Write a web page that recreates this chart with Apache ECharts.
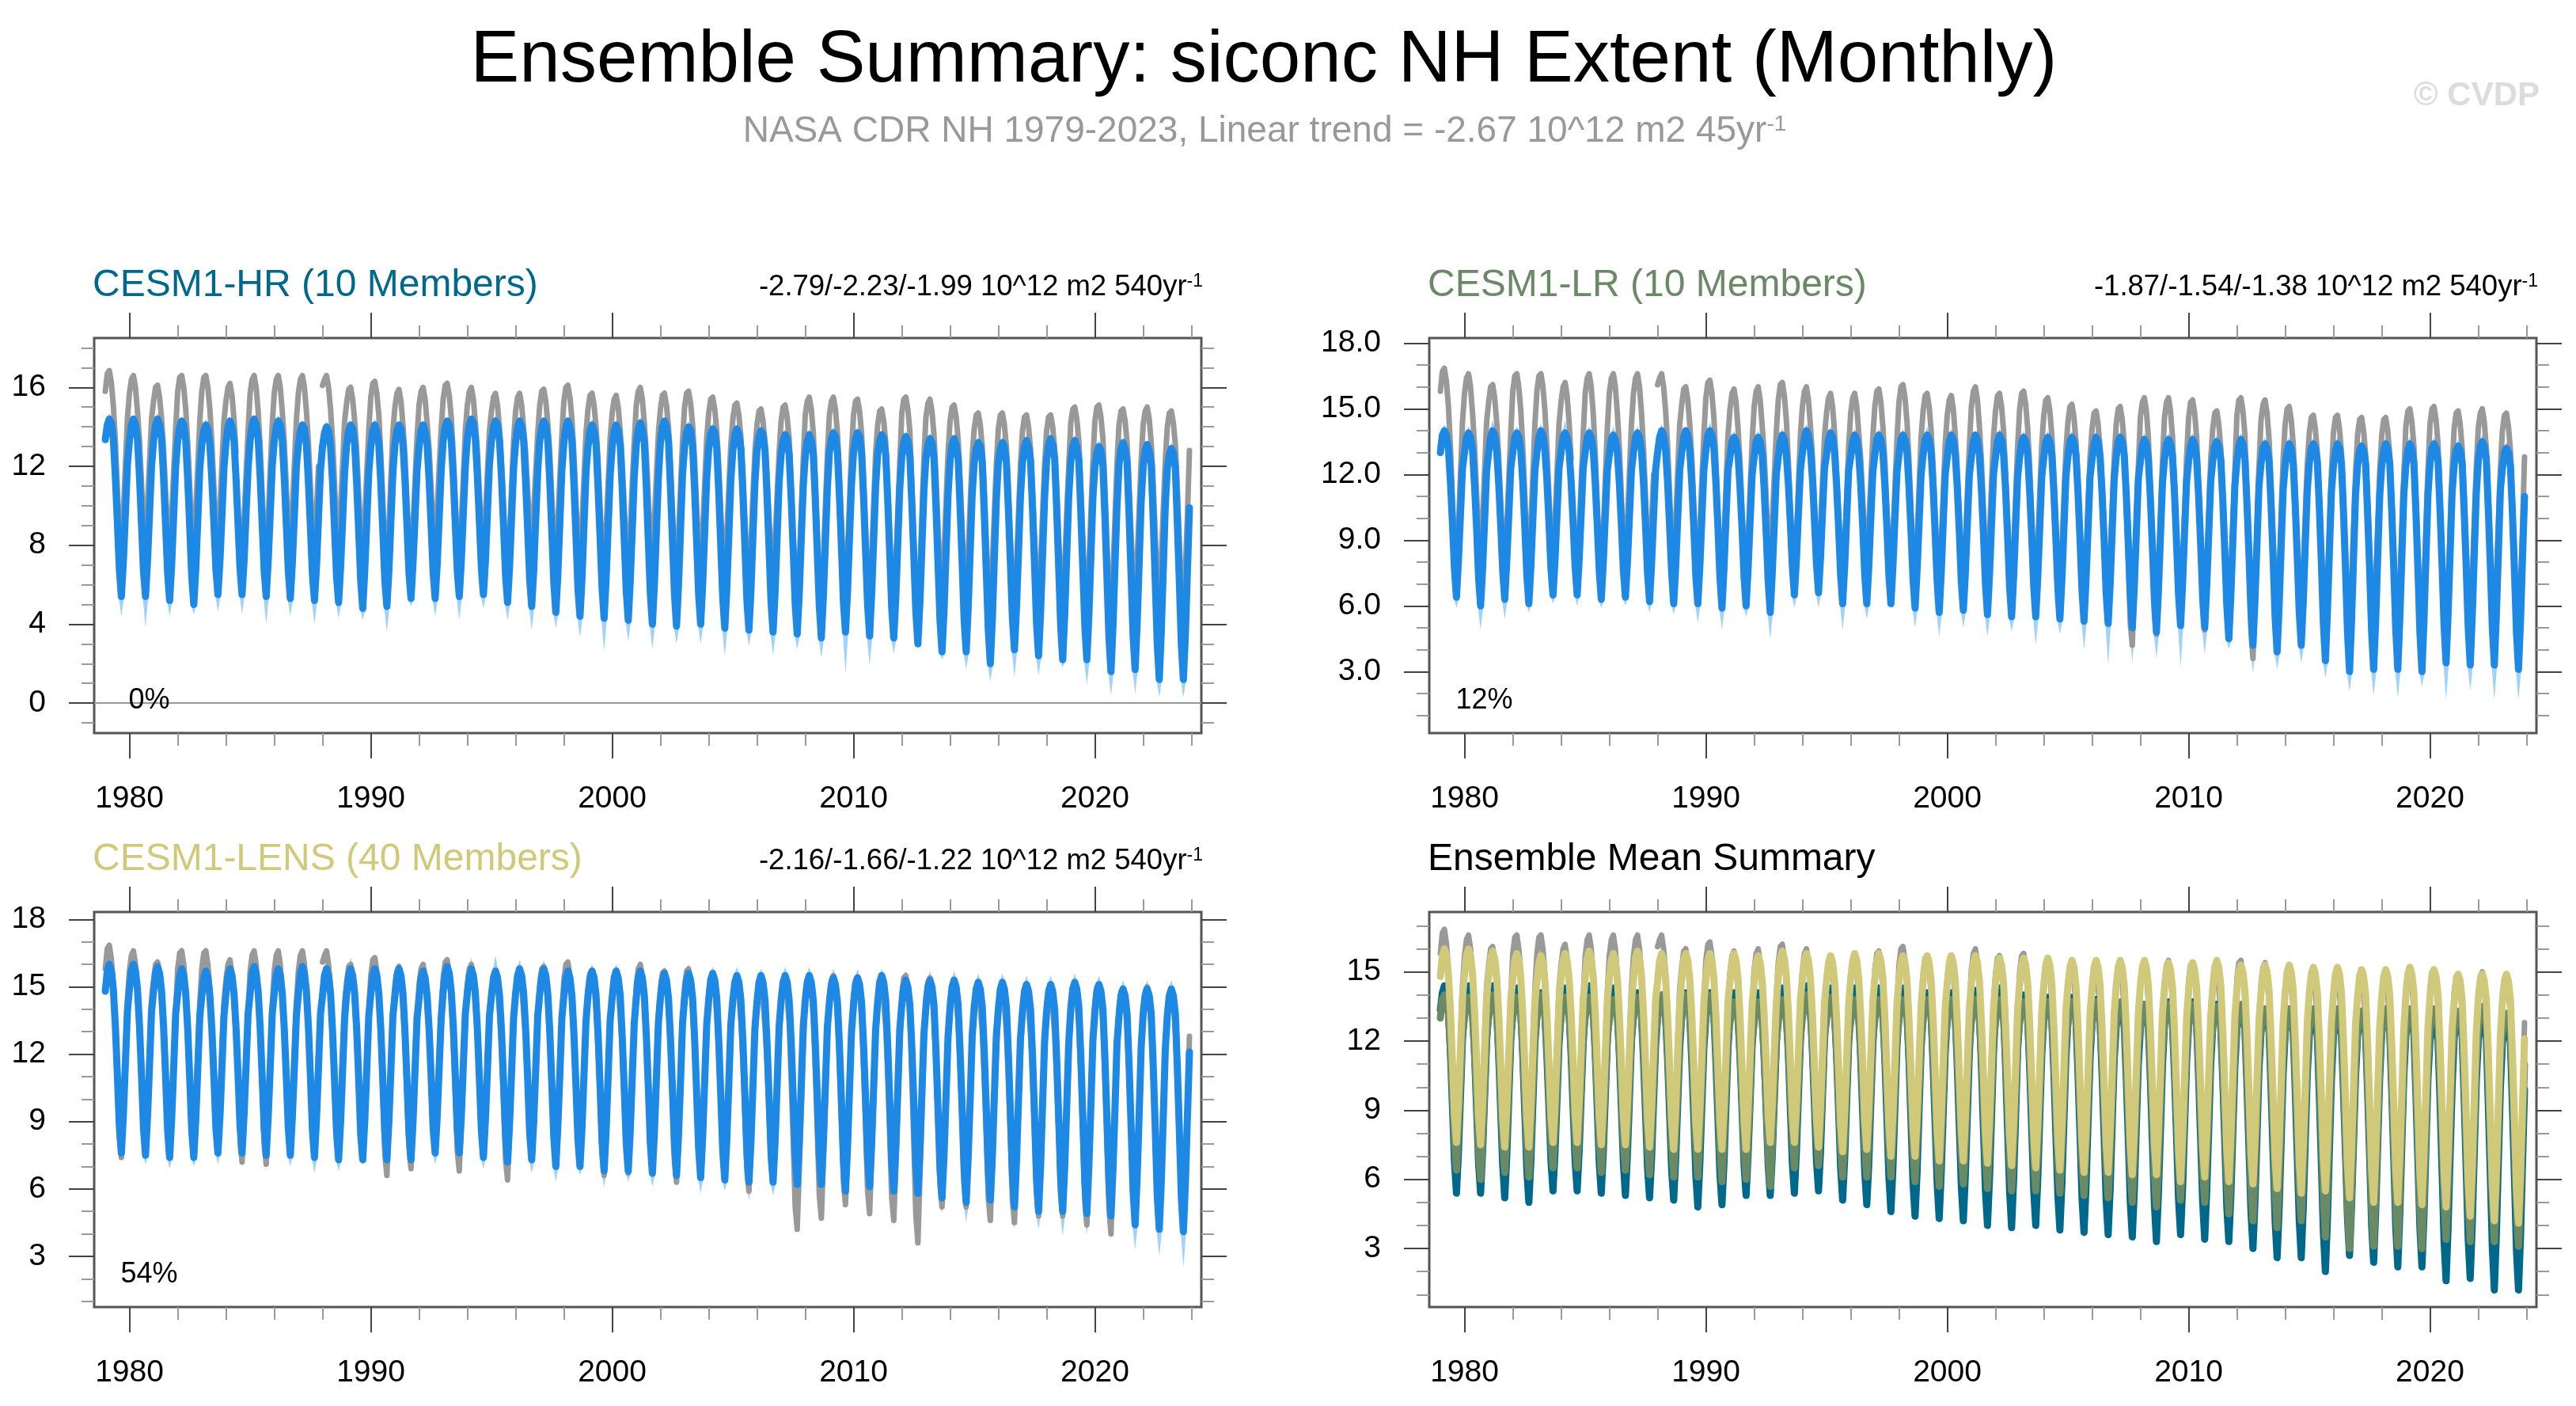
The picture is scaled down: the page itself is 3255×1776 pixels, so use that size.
<!DOCTYPE html>
<html><head><meta charset="utf-8">
<script src="https://cdn.jsdelivr.net/npm/echarts@6.0.0/dist/echarts.min.js"></script>
<style>html,body{margin:0;padding:0;background:#fff}#c{width:3255px;height:1776px}</style>
</head><body><div id="c"></div>
<script>
// ---------------- DATA (10^12 m2), monthly Jan 1979 .. Dec 2023 ----------------
const startYear = 1979;
const obsExtent = [
15.8,16.7,16.85,16.25,15.1,13.3,10.9,8.3,7.4,9.7,12.0,14.4,
15.7,16.4,16.6,16.0,14.8,13.3,11.2,8.9,8.0,10.1,12.2,14.4,
15.3,16.0,16.1,15.5,14.4,12.8,10.7,8.4,7.5,9.6,11.7,13.9,
15.8,16.5,16.6,16.0,14.9,13.2,11.0,8.5,7.7,9.8,12.0,14.3,
15.8,16.5,16.6,16.0,14.9,13.2,11.0,8.6,7.8,9.9,12.1,14.3,
15.3,16.0,16.2,15.6,14.4,12.7,null,8.1,7.2,9.3,11.6,13.8,
15.7,16.4,16.6,16.0,14.8,13.0,10.6,8.0,7.1,9.4,11.8,14.1,
15.7,16.4,16.6,16.0,14.8,13.2,11.0,8.6,7.8,9.9,12.1,14.3,
15.7,16.4,16.6,16.0,14.8,13.2,11.0,8.5,7.7,9.8,12.0,null,
16.1,16.4,16.6,16.0,14.9,13.3,11.1,8.7,7.8,9.9,12.1,14.3,
15.2,15.9,16.0,15.4,14.3,12.8,10.6,8.3,7.5,9.5,11.7,13.8,
15.5,16.2,16.3,15.7,14.6,12.6,10.2,7.5,6.6,8.9,11.4,13.8,
15.0,15.7,15.9,15.3,14.1,12.5,10.2,7.8,6.9,9.1,11.3,13.5,
15.1,15.8,16.0,15.4,14.2,12.9,10.9,8.7,7.9,9.8,11.9,13.9,
15.4,16.1,16.2,15.6,14.5,12.6,10.3,7.7,6.8,9.1,11.4,13.8,
15.1,15.8,16.0,15.4,14.2,12.8,10.7,8.4,7.6,9.6,11.7,13.8,
14.8,15.5,15.7,15.1,13.9,12.1,9.8,7.3,6.4,8.6,10.9,13.3,
14.8,15.5,15.7,15.1,13.9,12.7,10.8,8.8,8.0,9.8,11.7,13.7,
15.1,15.8,15.9,15.3,14.2,12.6,10.4,8.0,7.1,9.2,11.4,13.6,
15.3,16.0,16.1,15.5,14.4,12.6,10.3,7.9,7.0,9.1,11.4,13.7,
14.9,15.6,15.7,15.1,14.0,12.3,10.0,7.5,6.6,8.8,11.1,13.4,
14.7,15.4,15.6,15.0,13.8,12.2,10.0,7.6,6.7,8.8,11.1,13.3,
15.1,15.8,16.0,15.4,14.2,12.6,10.4,8.0,7.2,9.3,11.5,13.7,
14.9,15.6,15.7,15.1,14.0,12.1,9.8,7.2,6.3,8.6,10.9,13.3,
15.0,15.7,15.8,15.2,14.1,12.3,10.0,7.5,6.6,8.8,11.1,13.4,
14.7,15.4,15.5,14.9,13.8,12.0,9.8,7.3,6.4,8.6,10.9,13.1,
14.4,15.1,15.2,14.6,13.5,11.7,9.3,6.8,5.9,8.1,10.5,12.8,
14.1,14.8,14.9,14.3,13.2,11.6,9.4,7.1,6.3,8.3,10.5,12.7,
14.3,15.0,15.1,14.5,13.4,10.9,8.2,5.2,4.2,6.8,9.5,12.3,
14.6,15.3,15.5,14.9,13.7,11.3,8.6,5.7,4.7,7.2,9.9,12.6,
14.6,15.3,15.5,14.9,13.7,11.6,9.0,6.3,5.3,7.7,10.2,12.8,
14.6,15.3,15.4,14.8,13.7,11.4,8.8,5.9,4.9,7.4,10.0,12.7,
14.1,14.8,14.9,14.3,13.2,11.0,8.4,5.6,4.6,7.0,9.6,12.2,
14.7,15.4,15.5,14.9,13.8,11.0,8.0,4.8,3.6,6.5,9.4,12.4,
14.5,15.2,15.4,14.8,13.6,11.5,9.0,6.2,5.2,7.6,10.2,12.7,
14.3,15.0,15.1,14.5,13.4,11.3,8.9,6.2,5.2,7.6,10.1,12.5,
13.9,14.6,14.7,14.1,13.0,10.9,8.3,5.6,4.6,7.0,9.6,12.1,
13.9,14.6,14.7,14.1,13.0,10.8,8.3,5.5,4.5,7.0,9.5,12.1,
13.8,14.5,14.6,14.0,12.9,10.9,8.4,5.8,4.8,7.2,9.6,12.1,
13.8,14.5,14.6,14.0,12.9,10.9,8.4,5.7,4.8,7.1,9.6,12.0,
14.2,14.9,15.0,14.4,13.3,11.0,8.3,5.4,4.4,6.9,9.6,12.2,
14.3,15.0,15.1,14.5,13.4,10.9,8.1,5.1,4.0,6.7,9.4,12.2,
14.1,14.8,14.9,14.3,13.2,11.1,8.6,5.9,4.9,7.3,9.8,12.3,
14.1,14.8,15.0,14.4,13.2,11.1,8.6,5.9,4.9,7.3,9.8,12.3,
14.0,14.7,14.8,14.2,13.1,10.8,8.2,5.4,4.4,6.9,9.5,12.8
];
const hrMean = [
13.35,14.1,14.4,14.2,13.4,11.5,9.2,6.8,5.4,7.2,9.6,12.1,
13.3,14.1,14.4,14.1,13.4,11.5,9.1,6.7,5.4,7.2,9.6,12.0,
13.3,14.1,14.4,14.1,13.4,11.4,9.0,6.6,5.2,7.0,9.5,12.0,
13.3,14.0,14.3,14.1,13.3,11.3,8.9,6.4,5.0,6.8,9.3,11.9,
13.1,13.8,14.1,13.9,13.1,11.3,9.1,6.8,5.5,7.2,9.5,11.9,
13.2,14.0,14.3,14.0,13.3,11.4,9.1,6.8,5.5,7.2,9.6,11.9,
13.3,14.1,14.4,14.1,13.4,11.5,9.1,6.7,5.4,7.2,9.6,12.0,
13.3,14.0,14.3,14.1,13.3,11.4,9.1,6.7,5.3,7.1,9.5,12.0,
13.1,13.8,14.1,13.9,13.1,11.2,8.9,6.5,5.2,6.9,9.4,11.8,
13.0,13.7,14.0,13.8,13.0,11.2,8.8,6.4,5.1,6.9,9.3,11.7,
13.1,13.8,14.1,13.9,13.1,11.1,8.7,6.2,4.8,6.7,9.2,11.7,
13.0,13.8,14.1,13.8,13.1,11.1,8.7,6.2,4.9,6.7,9.2,11.7,
13.1,13.8,14.1,13.9,13.1,11.3,9.0,6.6,5.3,7.1,9.4,11.8,
13.0,13.8,14.1,13.8,13.1,11.3,9.0,6.6,5.3,7.0,9.4,11.8,
13.3,14.0,14.3,14.1,13.3,11.5,9.1,6.7,5.4,7.2,9.6,12.0,
13.4,14.1,14.4,14.2,13.4,11.5,9.2,6.8,5.5,7.2,9.7,12.1,
13.3,14.0,14.3,14.1,13.3,11.4,9.0,6.5,5.1,6.9,9.4,11.9,
13.2,14.0,14.3,14.0,13.3,11.2,8.8,6.3,4.9,6.7,9.3,11.8,
13.3,14.0,14.3,14.1,13.3,11.2,8.7,6.1,4.6,6.5,9.2,11.8,
13.2,14.0,14.3,14.0,13.3,11.1,8.5,5.8,4.4,6.3,9.0,11.7,
13.0,13.8,14.1,13.8,13.1,10.9,8.4,5.8,4.3,6.3,8.9,11.5,
13.0,13.8,14.1,13.8,13.1,10.9,8.3,5.7,4.2,6.2,8.8,11.5,
13.1,13.9,14.2,13.9,13.2,10.9,8.2,5.5,4.0,6.0,8.7,11.5,
13.2,14.0,14.3,14.0,13.3,10.9,8.2,5.5,3.9,6.0,8.8,11.6,
13.0,13.7,14.0,13.8,13.0,10.8,8.2,5.5,4.0,6.0,8.7,11.4,
12.9,13.6,13.9,13.7,12.9,10.7,8.0,5.3,3.8,5.8,8.5,11.3,
12.8,13.6,13.9,13.6,12.9,10.6,8.0,5.2,3.7,5.7,8.5,11.2,
12.8,13.5,13.8,13.6,12.8,10.5,7.9,5.1,3.6,5.6,8.4,11.2,
12.6,13.3,13.6,13.4,12.6,10.4,7.8,5.0,3.5,5.5,8.3,11.0,
12.5,13.3,13.6,13.3,12.6,10.3,7.6,4.9,3.3,5.4,8.1,10.9,
12.7,13.4,13.7,13.5,12.7,10.5,7.9,5.1,3.6,5.6,8.4,11.1,
12.7,13.4,13.7,13.5,12.7,10.4,7.7,5.0,3.4,5.5,8.2,11.0,
12.6,13.3,13.6,13.4,12.6,10.3,7.6,4.8,3.3,5.3,8.1,10.9,
12.5,13.2,13.5,13.3,12.5,10.1,7.4,4.6,3.0,5.1,7.9,10.8,
12.4,13.1,13.4,13.2,12.4,9.9,7.1,4.2,2.6,4.7,7.6,10.6,
12.3,13.1,13.4,13.1,12.4,9.9,7.1,4.2,2.6,4.8,7.7,10.6,
12.2,12.9,13.2,13.0,12.2,9.6,6.7,3.7,2.0,4.2,7.3,10.3,
12.2,12.9,13.2,13.0,12.2,9.8,7.1,4.3,2.7,4.8,7.6,10.5,
12.2,13.0,13.3,13.0,12.3,9.8,7.0,4.0,2.4,4.6,7.5,10.4,
12.3,13.1,13.4,13.1,12.4,9.8,6.9,3.9,2.2,4.5,7.5,10.5,
12.2,13.0,13.3,13.0,12.3,9.7,6.8,3.9,2.2,4.4,7.4,10.4,
12.0,12.7,13.0,12.8,12.0,9.4,6.4,3.3,1.6,3.9,7.0,10.0,
12.1,12.9,13.2,12.9,12.2,9.5,6.5,3.4,1.7,4.0,7.1,10.2,
12.0,12.8,13.1,12.8,12.1,9.3,6.2,3.0,1.2,3.6,6.8,10.0,
11.9,12.6,12.9,12.7,11.9,9.1,6.1,2.9,1.2,3.5,6.7,9.9
];
const lrMean = [
13.0,13.8,14.0,13.8,13.2,11.7,9.8,7.7,6.4,8.1,10.2,12.3,
13.0,13.7,13.9,13.7,13.1,11.5,9.6,7.3,6.0,7.7,9.9,12.2,
13.0,13.7,14.0,13.8,13.1,11.6,9.7,7.6,6.3,8.0,10.1,12.3,
13.0,13.7,13.9,13.7,13.1,11.6,9.6,7.4,6.1,7.8,10.0,12.2,
13.0,13.7,14.0,13.8,13.1,11.7,9.8,7.7,6.5,8.1,10.2,12.3,
13.0,13.7,13.9,13.7,13.1,11.7,9.8,7.8,6.5,8.1,10.2,12.3,
13.0,13.7,13.9,13.7,13.1,11.6,9.7,7.6,6.3,8.0,10.1,12.2,
12.9,13.6,13.8,13.6,13.0,11.6,9.7,7.6,6.4,8.0,10.1,12.2,
13.0,13.7,13.9,13.7,13.1,11.6,9.7,7.5,6.2,7.9,10.1,12.2,
13.0,13.7,14.0,13.8,13.1,11.6,9.6,7.5,6.1,7.8,10.0,12.2,
13.0,13.7,14.0,13.8,13.1,11.6,9.6,7.4,6.1,7.8,10.0,12.2,
13.1,13.8,14.0,13.8,13.2,11.6,9.6,7.3,5.9,7.7,10.0,12.2,
12.8,13.5,13.7,13.5,12.9,11.4,9.5,7.3,6.0,7.7,9.9,12.0,
12.8,13.5,13.7,13.5,12.9,11.3,9.3,7.1,5.7,7.5,9.7,12.0,
12.8,13.5,13.8,13.6,12.9,11.6,9.8,7.8,6.5,8.1,10.2,12.2,
13.0,13.7,14.0,13.8,13.1,11.8,9.9,7.9,6.6,8.2,10.3,12.3,
12.9,13.6,13.9,13.7,13.0,11.5,9.6,7.4,6.1,7.8,10.0,12.2,
12.8,13.5,13.8,13.6,12.9,11.5,9.6,7.4,6.1,7.8,10.0,12.1,
12.9,13.6,13.8,13.6,13.0,11.5,9.6,7.4,6.1,7.8,10.0,12.1,
12.9,13.6,13.8,13.6,13.0,11.4,9.4,7.2,5.9,7.6,9.8,12.0,
12.9,13.6,13.8,13.6,13.0,11.4,9.3,7.1,5.7,7.5,9.8,12.0,
12.8,13.5,13.8,13.6,12.9,11.4,9.4,7.1,5.8,7.5,9.8,12.0,
12.8,13.5,13.8,13.6,12.9,11.3,9.3,7.0,5.6,7.4,9.7,12.0,
12.8,13.5,13.8,13.6,12.9,11.3,9.2,6.9,5.5,7.3,9.6,11.9,
12.8,13.5,13.7,13.5,12.9,11.2,9.2,6.9,5.5,7.3,9.6,11.9,
12.8,13.5,13.7,13.5,12.9,11.2,9.1,6.8,5.4,7.2,9.5,11.9,
12.8,13.5,13.7,13.5,12.9,11.2,9.1,6.7,5.3,7.2,9.5,11.9,
12.7,13.4,13.7,13.5,12.8,11.1,9.0,6.6,5.2,7.0,9.4,11.8,
12.8,13.5,13.7,13.5,12.9,11.1,8.9,6.5,5.0,6.9,9.3,11.8,
12.6,13.3,13.6,13.4,12.7,10.9,8.7,6.3,4.8,6.7,9.2,11.6,
12.7,13.4,13.6,13.4,12.8,11.1,8.9,6.5,5.1,7.0,9.4,11.7,
12.6,13.3,13.6,13.4,12.7,11.0,8.8,6.4,5.0,6.9,9.3,11.7,
12.6,13.3,13.5,13.3,12.7,10.8,8.5,6.0,4.5,6.5,9.0,11.5,
12.6,13.3,13.6,13.4,12.7,10.7,8.4,5.8,4.2,6.3,8.9,11.5,
12.5,13.2,13.4,13.2,12.6,10.6,8.2,5.5,3.9,6.0,8.7,11.3,
12.4,13.1,13.4,13.2,12.5,10.6,8.3,5.7,4.2,6.2,8.8,11.3,
12.5,13.2,13.4,13.2,12.6,10.5,8.0,5.2,3.5,5.7,8.5,11.2,
12.4,13.1,13.4,13.2,12.5,10.3,7.7,4.8,3.0,5.3,8.2,11.1,
12.4,13.1,13.3,13.1,12.5,10.2,7.7,4.8,3.1,5.3,8.2,11.0,
12.4,13.1,13.4,13.2,12.5,10.3,7.7,4.9,3.1,5.4,8.2,11.1,
12.4,13.1,13.4,13.2,12.5,10.3,7.7,4.8,3.0,5.3,8.2,11.1,
12.5,13.2,13.4,13.2,12.6,10.4,7.9,5.1,3.4,5.6,8.4,11.2,
12.4,13.1,13.3,13.1,12.5,10.3,7.8,5.0,3.3,5.5,8.3,11.1,
12.6,13.3,13.5,13.3,12.7,10.4,7.9,5.0,3.3,5.6,8.4,11.3,
12.3,13.0,13.2,13.0,12.4,10.2,7.6,4.8,3.1,5.3,8.2,11.0
];
const lensMean = [
14.8,15.7,16.0,15.7,14.9,13.3,11.1,8.8,7.6,9.3,11.6,13.9,
14.9,15.7,16.0,15.7,14.9,13.3,11.1,8.7,7.5,9.2,11.5,13.9,
14.8,15.6,15.9,15.6,14.8,13.2,11.0,8.6,7.4,9.1,11.4,13.8,
14.7,15.5,15.8,15.5,14.7,13.1,10.9,8.6,7.4,9.1,11.4,13.7,
14.6,15.4,15.7,15.4,14.6,13.1,11.0,8.7,7.6,9.2,11.4,13.7,
14.7,15.5,15.8,15.5,14.7,13.2,11.1,8.8,7.6,9.3,11.5,13.8,
14.7,15.6,15.9,15.6,14.8,13.2,11.0,8.7,7.5,9.2,11.4,13.8,
14.7,15.5,15.8,15.5,14.7,13.1,11.0,8.7,7.5,9.2,11.4,13.7,
14.7,15.6,15.9,15.6,14.8,13.2,11.0,8.6,7.4,9.1,11.4,13.8,
14.6,15.5,15.8,15.5,14.7,13.0,10.8,8.5,7.3,9.0,11.3,13.6,
14.7,15.5,15.8,15.5,14.7,13.1,10.9,8.4,7.3,9.0,11.3,13.7,
14.7,15.5,15.8,15.5,14.7,13.1,10.8,8.5,7.3,9.0,11.3,13.7,
14.6,15.5,15.8,15.5,14.7,13.0,10.8,8.5,7.3,9.0,11.3,13.6,
14.5,15.4,15.7,15.4,14.6,13.1,11.0,8.7,7.6,9.2,11.4,13.6,
14.8,15.6,15.9,15.6,14.8,13.3,11.1,8.7,7.6,9.2,11.5,13.8,
14.7,15.5,15.8,15.5,14.7,13.1,10.9,8.6,7.4,9.1,11.3,13.7,
14.6,15.4,15.7,15.4,14.6,13.0,10.8,8.4,7.2,8.9,11.2,13.6,
14.7,15.5,15.8,15.5,14.7,13.1,10.9,8.5,7.3,9.0,11.3,13.7,
14.7,15.5,15.8,15.5,14.7,13.0,10.7,8.3,7.0,8.8,11.1,13.6,
14.6,15.4,15.7,15.4,14.6,12.9,10.6,8.2,7.0,8.7,11.1,13.5,
14.6,15.4,15.7,15.4,14.6,12.9,10.6,8.1,6.8,8.6,11.0,13.5,
14.5,15.4,15.7,15.4,14.6,12.8,10.5,8.1,6.8,8.6,11.0,13.4,
14.5,15.4,15.7,15.4,14.6,12.8,10.5,8.0,6.7,8.5,10.9,13.4,
14.5,15.3,15.6,15.3,14.5,12.7,10.4,7.9,6.6,8.4,10.8,13.4,
14.5,15.3,15.6,15.3,14.5,12.7,10.3,7.8,6.5,8.3,10.8,13.3,
14.4,15.3,15.6,15.3,14.5,12.6,10.2,7.7,6.4,8.2,10.7,13.3,
14.4,15.2,15.5,15.2,14.4,12.6,10.2,7.6,6.3,8.1,10.6,13.2,
14.3,15.2,15.5,15.2,14.4,12.5,10.1,7.6,6.3,8.1,10.6,13.2,
14.4,15.2,15.5,15.2,14.4,12.6,10.1,7.5,6.2,8.1,10.6,13.2,
14.4,15.2,15.5,15.2,14.4,12.5,10.1,7.5,6.2,8.1,10.6,13.2,
14.3,15.1,15.4,15.1,14.3,12.4,9.9,7.3,5.9,7.8,10.4,13.0,
14.2,15.1,15.4,15.1,14.3,12.4,10.0,7.4,6.1,8.0,10.5,13.1,
14.3,15.2,15.5,15.2,14.4,12.4,9.9,7.3,5.9,7.8,10.4,13.1,
14.2,15.0,15.3,15.0,14.2,12.3,9.8,7.1,5.8,7.7,10.3,12.9,
14.1,15.0,15.3,15.0,14.2,12.1,9.6,6.9,5.6,7.5,10.1,12.8,
14.1,15.0,15.3,15.0,14.2,12.1,9.6,6.8,5.4,7.4,10.0,12.8,
14.1,14.9,15.2,14.9,14.1,12.1,9.6,6.9,5.5,7.4,10.1,12.8,
14.0,14.9,15.2,14.9,14.1,12.0,9.4,6.6,5.2,7.2,9.9,12.7,
13.9,14.8,15.1,14.8,14.0,11.9,9.3,6.4,5.0,7.0,9.8,12.6,
13.9,14.8,15.1,14.8,14.0,11.8,9.2,6.4,5.0,7.0,9.7,12.5,
14.0,14.9,15.2,14.9,14.1,11.9,9.2,6.3,4.9,7.0,9.7,12.6,
13.9,14.8,15.1,14.8,14.0,11.8,9.1,6.3,4.8,6.9,9.6,12.5,
13.7,14.6,14.9,14.6,13.8,11.5,8.8,5.9,4.4,6.5,9.3,12.3,
13.8,14.6,14.9,14.6,13.8,11.5,8.7,5.7,4.2,6.3,9.2,12.2,
13.7,14.6,14.9,14.6,13.8,11.4,8.6,5.6,4.1,6.3,9.2,12.1
];
// ensemble extremes (one value per year): September minimum, March maximum
const hrSepMin = [4.4,3.8,4.4,4.5,4.6,4.5,4.0,4.4,4.0,4.3,4.2,3.6,4.9,4.4,4.2,4.8,4.2,3.7,3.8,3.3,2.6,3.1,2.7,3.0,3.0,2.4,2.9,2.4,2.7,2.3,1.5,1.9,2.5,2.8,2.2,1.7,1.1,1.3,1.4,1.8,0.9,0.4,0.5,0.3,0.3];
const hrMarMax = [14.7,14.6,14.7,14.5,14.4,14.5,14.6,14.6,14.3,14.3,14.3,14.4,14.3,14.3,14.5,14.6,14.6,14.5,14.5,14.5,14.4,14.3,14.5,14.5,14.3,14.2,14.1,14.1,13.9,13.9,14.0,14.0,13.8,13.8,13.7,13.6,13.5,13.5,13.6,13.6,13.6,13.3,13.4,13.3,13.2];
const lrSepMin = [5.9,4.9,5.4,5.7,6.1,6.0,5.9,6.0,5.7,5.6,5.2,4.9,5.5,4.5,5.9,5.9,4.9,5.4,5.9,5.0,4.6,5.0,4.6,4.8,4.2,4.7,4.0,3.3,3.4,3.6,3.2,3.8,4.0,2.9,3.1,3.4,2.7,2.1,1.9,1.8,2.3,1.7,2.1,1.7,1.7];
const lrMarMax = [14.3,14.2,14.5,14.2,14.3,14.5,14.2,14.2,14.2,14.3,14.2,14.4,14.0,14.0,14.1,14.3,14.2,14.1,14.1,14.1,14.2,14.1,14.0,14.1,14.0,14.0,14.0,14.0,14.0,13.9,13.9,13.9,13.8,13.9,13.7,13.7,13.7,13.7,13.6,13.7,13.7,13.7,13.6,13.8,13.5];
const lensSepMin = [7.3,7.1,6.9,7.0,7.1,7.0,7.2,7.0,6.7,6.8,7.1,7.0,7.2,7.1,6.9,6.9,6.9,6.7,6.3,6.6,6.1,6.3,6.1,6.2,5.8,5.9,5.5,5.7,5.3,5.5,5.3,5.2,5.1,4.8,4.9,4.5,4.7,4.2,4.2,3.9,4.0,3.8,3.3,3.0,2.5];
const lensMarMax = [16.3,16.3,16.2,16.1,16.1,16.2,16.2,16.3,16.3,16.4,16.3,16.1,16.1,16.0,16.2,16.3,16.4,16.2,16.2,16.1,16.0,16.0,16.1,15.9,16.0,15.9,15.9,15.8,15.9,15.9,15.8,15.8,15.8,15.7,15.7,15.7,15.6,15.6,15.5,15.5,15.6,15.5,15.3,15.3,15.3];

const xMajorYears = [1980,1990,2000,2010,2020];
const xMinorYears = [1982,1984,1986,1988,1992,1994,1996,1998,2002,2004,2006,2008,2012,2014,2016,2018,2022,2024];
const hrYTicks = [0,4,8,12,16], hrYMinor = [-1,1,2,3,5,6,7,9,10,11,13,14,15,17,18];
const lrYTicks = [3,6,9,12,15,18], lrYMinor = [1,2,4,5,7,8,10,11,13,14,16,17];
const lensYTicks = [3,6,9,12,15,18], lensYMinor = [1,2,4,5,7,8,10,11,13,14,16,17];
const sumYTicks = [3,6,9,12,15], sumYMinor = [1,2,4,5,7,8,10,11,13,14,16,17];

const titleText = 'Ensemble Summary: siconc NH Extent (Monthly)';
const subtitleText = 'NASA CDR NH 1979-2023, Linear trend = -2.67 10^12 m2 45yr';
const panelNames = ['CESM1-HR (10 Members)','CESM1-LR (10 Members)','CESM1-LENS (40 Members)','Ensemble Mean Summary'];
const trendTexts = ['-2.79/-2.23/-1.99 10^12 m2 540yr','-1.87/-1.54/-1.38 10^12 m2 540yr','-2.16/-1.66/-1.22 10^12 m2 540yr'];
const pctTexts = ['0%','12%','54%'];

// ---------------- STYLE / LAYOUT ----------------
const FONT = 'Liberation Sans';
const GRAY = '#999999', BLUE = '#1e88e5', NEEDLE = '#a3d2f7';
const TEAL = '#00698b', GREEN = '#6a8a65', KHAKI = '#d1c97a';
const XMIN = 1978.54, XMAX = 2024.41;
const GW = 1399, GH = 499;
const panels = [
  {left:119,  top:427,  ymin:-1.52, ymax:18.5,  major:hrYTicks,   minor:hrYMinor,   fmt:v=>String(v)},
  {left:1806, top:427,  ymin:0.19,  ymax:18.23, major:lrYTicks,   minor:lrYMinor,   fmt:v=>v.toFixed(1)},
  {left:119,  top:1152, ymin:0.74,  ymax:18.33, major:lensYTicks, minor:lensYMinor, fmt:v=>String(v)},
  {left:1806, top:1152, ymin:0.46,  ymax:17.6,  major:sumYTicks,  minor:sumYMinor,  fmt:v=>String(v)}
];

function monthly(arr){ return arr.map((v,i)=>[startYear + i/12, v==null ? '-' : v]); }
function needles(meanArr, extArr, m){ return extArr.map((e,k)=>[startYear + k + m/12, meanArr[k*12+m], e]); }

const grids = [], xAxes = [], yAxes = [], series = [];
panels.forEach((p,gi)=>{
  grids.push({left:p.left, top:p.top, width:GW, height:GH, show:true, borderColor:'#555', borderWidth:3, backgroundColor:'rgba(0,0,0,0)'});
  [['bottom',true],['bottom',false],['top',true],['top',false]].forEach(([pos,maj],k)=>{
    xAxes.push({type:'value', gridIndex:gi, position:pos, offset:0, min:XMIN, max:XMAX,
      axisLine:{show:false, onZero:false}, splitLine:{show:false}, minorTick:{show:false},
      axisTick:{show:true, inside:false, length:maj?32:16, customValues: maj?xMajorYears:xMinorYears,
        lineStyle:{color:maj?'#444':'#9a9a9a', width:2}},
      axisLabel:(k===0)?{show:true, customValues:xMajorYears, margin:64, fontSize:39, fontFamily:FONT, color:'#000',
        formatter:v=>String(Math.round(v))}:{show:false}
    });
  });
  [['left',true],['left',false],['right',true],['right',false]].forEach(([pos,maj],k)=>{
    yAxes.push({type:'value', gridIndex:gi, position:pos, offset:0, min:p.ymin, max:p.ymax,
      axisLine:{show:false, onZero:false}, splitLine:{show:false}, minorTick:{show:false},
      axisTick:{show:true, inside:false, length:maj?32:16, customValues: maj?p.major:p.minor,
        lineStyle:{color:maj?'#444':'#9a9a9a', width:2}},
      axisLabel:(k===0)?{show:true, customValues:p.major, margin:61, fontSize:39, fontFamily:FONT, color:'#000',
        formatter:p.fmt}:{show:false}
    });
  });
});

function lineS(gi, data, color, width, extra){
  return Object.assign({type:'line', xAxisIndex:gi*4, yAxisIndex:gi*4, data:data, showSymbol:false, symbol:'none',
    silent:true, animation:false, connectNulls:false, clip:true,
    lineStyle:{color:color, width:width, cap:'round', join:'round'}}, extra||{});
}
function needleS(gi, data){
  return {type:'custom', xAxisIndex:gi*4, yAxisIndex:gi*4, data:data, silent:true, animation:false, clip:true,
    encode:{x:0, y:[1,2]},
    renderItem:function(params, api){
      const a = api.coord([api.value(0), api.value(1)]);
      const b = api.coord([api.value(0), api.value(2)]);
      const w = 3.5;
      return {type:'polygon', shape:{points:[[a[0]-w,a[1]],[a[0]+w,a[1]],[b[0],b[1]]]}, style:{fill:NEEDLE}};
    }};
}
const models = [[hrMean,hrSepMin,hrMarMax],[lrMean,lrSepMin,lrMarMax],[lensMean,lensSepMin,lensMarMax]];
models.forEach(([mean,mn,mx],gi)=>{
  series.push(lineS(gi, monthly(obsExtent), GRAY, 7));
  series.push(needleS(gi, needles(mean, mn, 8)));
  series.push(needleS(gi, needles(mean, mx, 2)));
  const extra = gi===0 ? {markLine:{silent:true, symbol:['none','none'], label:{show:false}, animation:false,
      lineStyle:{color:'#999', width:2, type:'solid'}, data:[{yAxis:0}]}} : {};
  series.push(lineS(gi, monthly(mean), BLUE, 9, extra));
});
series.push(lineS(3, monthly(obsExtent), GRAY, 7));
series.push(lineS(3, monthly(hrMean), TEAL, 9));
series.push(lineS(3, monthly(lrMean), GREEN, 9));
series.push(lineS(3, monthly(lensMean), KHAKI, 9));

function txt(x, y, text, size, color, align, more){
  const st = Object.assign({text:text, fill:color, fontSize:size, fontFamily:FONT,
    align:align, textAlign:align, verticalAlign:'middle', textVerticalAlign:'middle'}, more||{});
  return {type:'text', x:x, y:y, silent:true, z:100, style:st};
}
function supRich(size, color){ return {sup:{fontSize:size, fontFamily:FONT, fill:color, verticalAlign:'top'}}; }

const graphics = [
  txt(1597, 77, titleText, 92.5, '#000', 'center'),
  txt(1598, 166, subtitleText + '{sup|-1}', 46, '#999', 'center', {rich:supRich(28,'#999')}),
  txt(3209, 121, '© CVDP', 42, '#dcdcdc', 'right', {fontWeight:'bold'})
];
const nameColors = [TEAL, GREEN, KHAKI, '#000'];
panels.forEach((p,gi)=>{
  const yTitle = p.top - 66;
  graphics.push(txt(p.left - 2, yTitle, panelNames[gi], 48, nameColors[gi], 'left'));
  if (gi < 3) {
    graphics.push(txt(p.left + GW + 2, yTitle + 2, trendTexts[gi] + '{sup|-1}', 36.5, '#000', 'right', {rich:supRich(23,'#000')}));
    graphics.push(txt(p.left + 69.5, p.top + GH - 41, pctTexts[gi], 36, '#000', 'center'));
  }
});

const chart = echarts.init(document.getElementById('c'), null, {renderer:'canvas', width:3255, height:1776});
chart.setOption({
  backgroundColor:'#fff', animation:false,
  grid:grids, xAxis:xAxes, yAxis:yAxes, series:series, graphic:graphics
});
</script>
</body></html>
